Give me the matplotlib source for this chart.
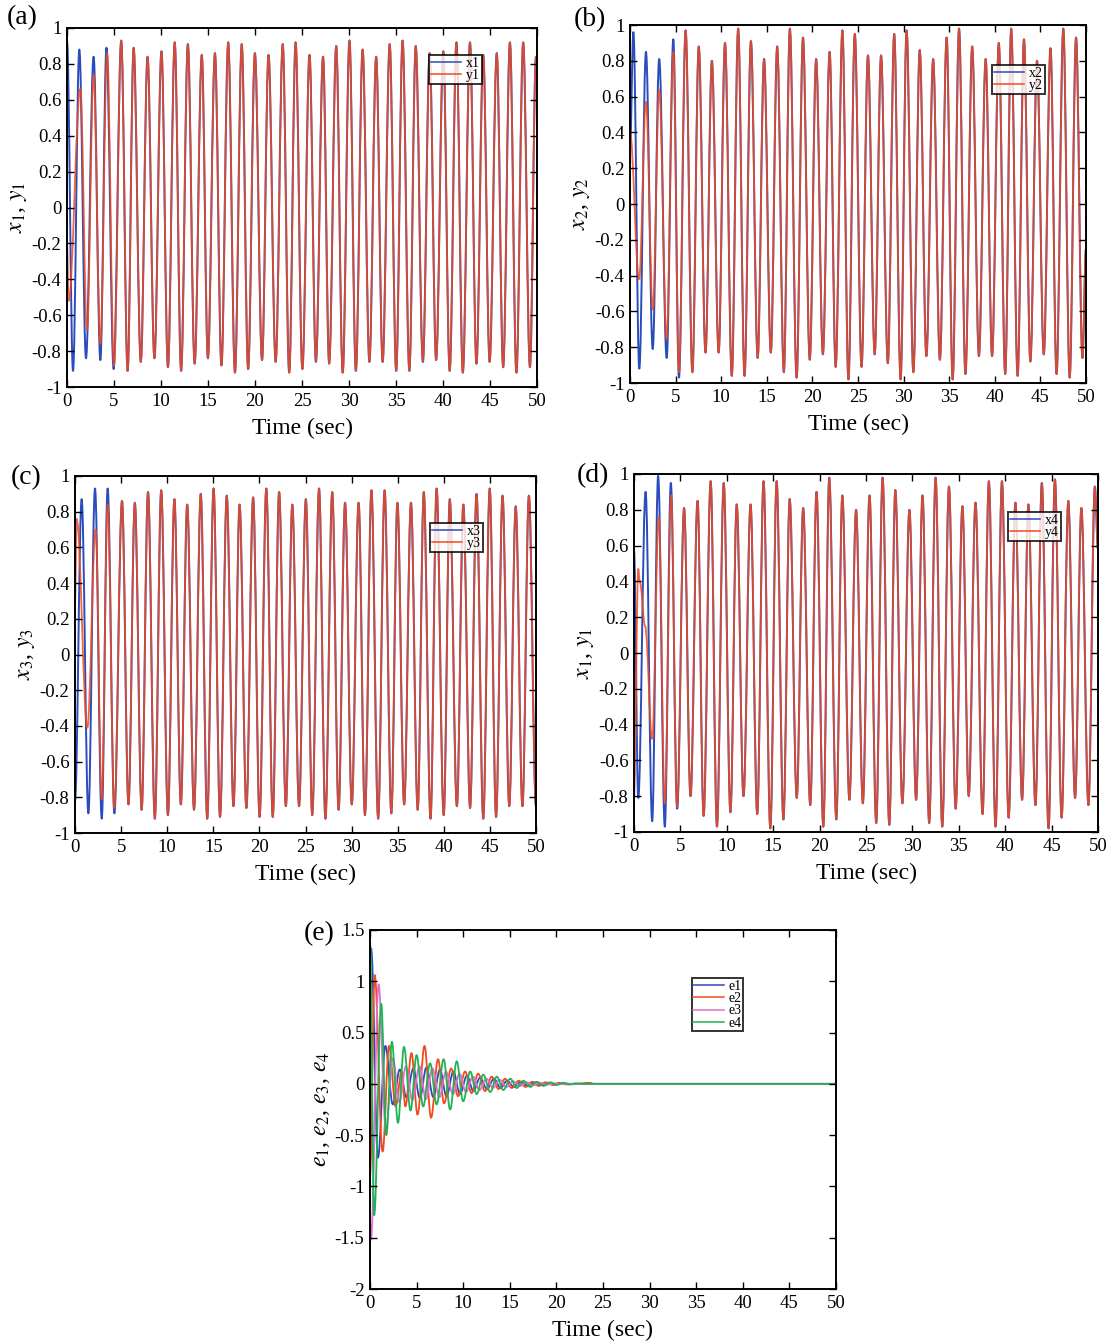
import numpy as np
import matplotlib
matplotlib.use('Agg')
import matplotlib.pyplot as plt
from matplotlib.path import Path
from matplotlib.patches import PathPatch
from matplotlib.lines import Line2D

plt.rcParams['font.family'] = ['Liberation Serif', 'DejaVu Serif']
plt.rcParams['mathtext.fontset'] = 'stix'

# ---- data: extrema of each signal (time, value) ----

# panel (a): x1 / y1
a_x_early_t = [0.0, 0.64, 1.31, 2.02, 2.83, 3.55, 4.20, 4.96]
a_x_early_v = [0.93, -0.91, 0.88, -0.84, 0.84, -0.85, 0.89, -0.90]
a_y_early_t = [0.0, 0.18, 1.42, 2.13, 2.83, 3.55, 4.27, 5.00]
a_y_early_v = [-0.20, -0.52, 0.66, -0.68, 0.74, -0.76, 0.86, -0.88]
a_peak_t = [5.77, 7.09, 8.57, 10.05, 11.46, 12.86, 14.34, 15.74, 17.15, 18.59, 19.99,
            21.44, 22.95, 24.32, 25.80, 27.24, 28.64, 30.05, 31.45, 32.89, 34.33, 35.70,
            37.10, 38.58, 40.03, 41.43, 42.87, 44.28, 45.72, 47.12, 48.53, 49.89]
a_peak_v = [0.93, 0.89, 0.84, 0.87, 0.92, 0.91, 0.85, 0.86, 0.92, 0.91, 0.86, 0.85, 0.91,
            0.92, 0.85, 0.84, 0.90, 0.93, 0.88, 0.84, 0.91, 0.93, 0.90, 0.86, 0.87, 0.92,
            0.92, 0.85, 0.86, 0.92, 0.92, 0.84]
a_trough_t = [6.45, 7.85, 9.30, 10.74, 12.14, 13.58, 14.99, 16.43, 17.87, 19.27, 20.75,
              22.20, 23.64, 25.04, 26.48, 27.89, 29.33, 30.73, 32.17, 33.58, 35.02, 36.42,
              37.86, 39.27, 40.71, 42.11, 43.56, 44.96, 46.40, 47.81, 49.25]
a_trough_v = [-0.91, -0.86, -0.84, -0.89, -0.91, -0.87, -0.84, -0.88, -0.92, -0.90, -0.85,
              -0.86, -0.92, -0.90, -0.86, -0.87, -0.92, -0.91, -0.86, -0.86, -0.91, -0.91,
              -0.86, -0.85, -0.91, -0.92, -0.87, -0.86, -0.89, -0.92, -0.89]
a_end = (50.0, 0.80)

# panel (b): x2 / y2
b_x_early_t = [0.0, 0.37, 1.02, 1.75, 2.49, 3.20, 4.02, 4.75, 5.37]
b_x_early_v = [0.30, 0.96, -0.92, 0.85, -0.81, 0.81, -0.86, 0.92, -0.97]
b_y_early_t = [0.0, 1.00, 1.75, 2.50, 3.20, 4.02, 4.75, 5.37]
b_y_early_v = [0.40, -0.42, 0.57, -0.59, 0.64, -0.75, 0.85, -0.94]
b_peak_t = [6.10, 7.54, 8.98, 10.42, 11.86, 13.26, 14.70, 16.14, 17.53, 18.97, 20.41,
            21.89, 23.29, 24.65, 26.09, 27.53, 28.97, 30.33, 31.77, 33.24, 34.72, 36.08,
            37.52, 39.00, 40.44, 41.80, 43.20, 44.63, 46.11, 47.51, 48.91]
b_peak_v = [0.97, 0.88, 0.80, 0.90, 0.98, 0.91, 0.81, 0.88, 0.98, 0.93, 0.81, 0.85, 0.97,
            0.95, 0.83, 0.83, 0.95, 0.97, 0.86, 0.81, 0.93, 0.98, 0.88, 0.81, 0.90, 0.98,
            0.92, 0.80, 0.87, 0.98, 0.93]
b_trough_t = [6.84, 8.28, 9.72, 11.16, 12.56, 14.00, 15.44, 16.87, 18.27, 19.71, 21.15,
              22.55, 23.95, 25.39, 26.83, 28.27, 29.67, 31.07, 32.50, 33.98, 35.38, 36.78,
              38.26, 39.70, 41.14, 42.50, 43.90, 45.37, 46.77, 48.21, 49.61]
b_trough_v = [-0.94, -0.83, -0.83, -0.96, -0.96, -0.86, -0.83, -0.94, -0.97, -0.87, -0.84,
              -0.91, -0.98, -0.91, -0.84, -0.89, -0.98, -0.94, -0.85, -0.87, -0.98, -0.95,
              -0.85, -0.85, -0.95, -0.96, -0.88, -0.84, -0.95, -0.97, -0.86]
b_end = (50.0, -0.25)

# panel (c): x3 / y3
c_x_early_t = [0.0, 0.72, 1.45, 2.17, 2.90, 3.54, 4.27]
c_x_early_v = [-0.82, 0.87, -0.89, 0.93, -0.92, 0.93, -0.89]
c_y_early_t = [0.0, 0.18, 1.34, 2.24, 2.90, 3.54, 4.27]
c_y_early_v = [0.28, 0.76, -0.41, 0.70, -0.81, 0.84, -0.86]
c_peak_t = [5.10, 6.49, 7.92, 9.35, 10.78, 12.17, 13.64, 15.03, 16.46, 17.85, 19.32,
            20.75, 22.14, 23.57, 25.04, 26.47, 27.90, 29.29, 30.76, 32.15, 33.58, 34.97,
            36.44, 37.83, 39.22, 40.65, 42.12, 43.55, 44.98, 46.37, 47.80, 49.23]
c_peak_v = [0.86, 0.85, 0.91, 0.92, 0.87, 0.84, 0.90, 0.93, 0.89, 0.84, 0.88, 0.93, 0.91,
            0.84, 0.87, 0.93, 0.91, 0.85, 0.85, 0.92, 0.92, 0.85, 0.85, 0.91, 0.93, 0.87,
            0.84, 0.90, 0.93, 0.89, 0.83, 0.89]
c_trough_t = [5.80, 7.23, 8.66, 10.08, 11.48, 12.91, 14.34, 15.73, 17.19, 18.59, 20.02,
              21.45, 22.87, 24.30, 25.73, 27.16, 28.59, 30.02, 31.45, 32.88, 34.31, 35.70,
              37.17, 38.56, 39.99, 41.42, 42.85, 44.28, 45.67, 47.10, 48.53]
c_trough_v = [-0.84, -0.87, -0.92, -0.90, -0.84, -0.87, -0.92, -0.91, -0.85, -0.86, -0.91,
              -0.91, -0.85, -0.85, -0.90, -0.92, -0.87, -0.84, -0.90, -0.92, -0.89, -0.84,
              -0.87, -0.92, -0.90, -0.85, -0.86, -0.92, -0.91, -0.85, -0.85]
c_end = (50.0, -0.85)

# panel (d): x4 / y4
d_x_early_t = [0.0, 0.46, 1.25, 1.96, 2.60, 3.32, 3.97, 4.65]
d_x_early_v = [0.57, -0.81, 0.90, -0.94, 0.99, -0.97, 0.95, -0.87]
d_y_early_t = [0.0, 0.46, 0.62, 1.20, 1.96, 2.67, 3.32, 4.00, 4.65]
d_y_early_v = [-0.80, 0.47, 0.40, 0.15, -0.48, 0.76, -0.84, 0.88, -0.86]
d_peak_t = [5.40, 6.85, 8.26, 9.67, 11.07, 12.56, 13.96, 15.37, 16.78, 18.23, 19.67,
            21.04, 22.45, 23.93, 25.38, 26.79, 28.16, 29.68, 31.09, 32.50, 33.94, 35.39,
            36.80, 38.24, 39.65, 41.10, 42.50, 43.95, 45.36, 46.80, 48.21, 49.66]
d_peak_v = [0.81, 0.85, 0.96, 0.95, 0.83, 0.83, 0.96, 0.96, 0.86, 0.81, 0.90, 0.98, 0.88,
            0.80, 0.88, 0.98, 0.91, 0.80, 0.88, 0.98, 0.93, 0.82, 0.84, 0.96, 0.96, 0.84,
            0.83, 0.95, 0.97, 0.85, 0.81, 0.93]
d_trough_t = [6.09, 7.50, 8.94, 10.39, 11.80, 13.28, 14.69, 16.10, 17.54, 18.99, 20.40,
              21.80, 23.21, 24.66, 26.10, 27.51, 28.92, 30.40, 31.81, 33.22, 34.66, 36.07,
              37.56, 38.96, 40.37, 41.82, 43.26, 44.67, 46.08, 47.53, 48.97]
d_trough_v = [-0.80, -0.91, -0.97, -0.89, -0.80, -0.90, -0.98, -0.93, -0.81, -0.85, -0.97,
              -0.93, -0.82, -0.84, -0.95, -0.96, -0.84, -0.82, -0.95, -0.97, -0.87, -0.80,
              -0.90, -0.97, -0.92, -0.82, -0.85, -0.98, -0.92, -0.81, -0.85]
d_end = (50.0, 0.58)

# panel (e): synchronization errors
e1_t = [0.0, 0.12, 0.85, 1.65, 2.45, 3.20, 3.90, 4.65, 5.35, 6.05, 6.80, 7.50, 8.20, 8.95,
        9.65, 10.40, 11.10, 11.80, 12.55, 13.30, 14.00, 14.70, 15.45, 16.20, 16.90, 17.60,
        18.40, 19.10, 19.80, 20.60, 21.30, 22.00, 23.00, 50.0]
e1_v = [1.28, 1.32, -0.72, 0.37, -0.20, 0.14, -0.13, 0.15, -0.14, 0.16, -0.13, 0.14, -0.12,
        0.12, -0.10, 0.08, -0.07, 0.06, -0.05, 0.05, -0.04, 0.03, -0.03, 0.02, -0.02, 0.015,
        -0.01, 0.01, -0.008, 0.005, -0.004, 0.002, 0.0, 0.0]
e2_t = [0.0, 0.50, 1.35, 2.05, 2.75, 3.40, 3.80, 4.45, 5.10, 5.85, 6.55, 7.30, 7.95, 8.70,
        9.45, 10.20, 10.90, 11.60, 12.35, 13.05, 13.80, 14.50, 15.20, 15.95, 16.70, 17.40,
        18.10, 18.80, 19.60, 20.30, 21.00, 22.00, 23.60, 24.00, 50.0]
e2_v = [-0.90, 1.06, -0.66, 0.37, -0.22, 0.12, -0.22, 0.30, -0.30, 0.37, -0.33, 0.24, -0.19,
        0.15, -0.12, 0.12, -0.09, 0.10, -0.07, 0.07, -0.05, 0.05, -0.04, 0.03, -0.03, 0.02,
        -0.02, 0.015, -0.01, 0.01, -0.005, 0.0, 0.01, 0.0, 0.0]
e3_t = [0.0, 0.10, 0.92, 1.70, 2.45, 3.15, 3.85, 4.55, 5.30, 6.00, 6.70, 7.45, 8.15, 8.90,
        9.60, 10.30, 11.05, 11.75, 12.50, 13.20, 13.90, 14.65, 15.35, 16.10, 16.80, 17.50,
        18.25, 19.00, 19.70, 20.40, 21.20, 22.50, 50.0]
e3_v = [-1.35, -1.52, 0.97, -0.45, 0.25, -0.18, 0.17, -0.16, 0.17, -0.15, 0.15, -0.13, 0.12,
        -0.10, 0.10, -0.08, 0.07, -0.06, 0.05, -0.04, 0.04, -0.03, 0.025, -0.02, 0.015,
        -0.012, 0.01, -0.008, 0.005, -0.003, 0.002, 0.0, 0.0]
e4_t = [0.0, 0.45, 1.20, 1.75, 2.35, 3.00, 3.65, 4.35, 5.00, 5.70, 6.45, 7.15, 7.90, 8.60,
        9.30, 10.00, 10.75, 11.45, 12.15, 12.90, 13.60, 14.30, 15.05, 15.75, 16.45, 17.20,
        17.90, 18.60, 19.35, 20.00, 20.80, 21.50, 22.20, 23.00, 50.0]
e4_v = [1.38, -1.28, 0.78, -0.50, 0.41, -0.38, 0.36, -0.26, 0.28, -0.22, 0.20, -0.20, 0.24,
        -0.25, 0.22, -0.17, 0.12, -0.10, 0.09, -0.08, 0.07, -0.06, 0.05, -0.04, 0.03, -0.03,
        0.02, -0.02, 0.015, -0.01, 0.01, -0.005, 0.003, 0.0, 0.0]

x_ticks = [0, 5, 10, 15, 20, 25, 30, 35, 40, 45, 50]
state_yticks = [-1, -0.8, -0.6, -0.4, -0.2, 0, 0.2, 0.4, 0.6, 0.8, 1]
state_ylabels = ['-1', '-0.8', '-0.6', '-0.4', '-0.2', '0', '0.2', '0.4', '0.6', '0.8', '1']
err_yticks = [-2, -1.5, -1, -0.5, 0, 0.5, 1, 1.5]
err_ylabels = ['-2', '-1.5', '-1', '-0.5', '0', '0.5', '1', '1.5']

BLUE = '#2a4cbc'
RED = '#f24a1e'
MAGENTA = '#e070cc'
GREEN = '#1fb256'


def build(early_t, early_v, pk_t, pk_v, tr_t, tr_v, end):
    t = np.concatenate([early_t, pk_t, tr_t, [end[0]]])
    v = np.concatenate([early_v, pk_v, tr_v, [end[1]]])
    order = np.argsort(t)
    return t[order], v[order]


def smooth_line(ax, t, v, color, lw=1.0, alpha=1.0):
    # cubic segments between extrema, flat at each extremum
    verts = [(t[0], v[0])]
    codes = [Path.MOVETO]
    for i in range(len(t) - 1):
        dt = t[i + 1] - t[i]
        verts += [(t[i] + 0.364 * dt, v[i]), (t[i + 1] - 0.364 * dt, v[i + 1]),
                  (t[i + 1], v[i + 1])]
        codes += [Path.CURVE4] * 3
    ax.add_patch(PathPatch(Path(verts, codes), fill=False, edgecolor=color,
                           lw=lw, alpha=alpha, joinstyle='round'))


def setup(ax, yticks, ylabels, ylabel):
    ax.set_xlim(0, 50)
    ax.set_ylim(yticks[0], yticks[-1])
    ax.set_xticks(x_ticks)
    ax.set_xticklabels([str(x) for x in x_ticks])
    ax.set_yticks(yticks)
    ax.set_yticklabels(ylabels)
    ax.tick_params(direction='in', top=True, right=True, length=5, width=1,
                   labelsize=13.5, pad=4)
    for s in ax.spines.values():
        s.set_linewidth(1.4)
    ax.set_xlabel('Time (sec)', fontsize=17, labelpad=6)
    ax.set_ylabel(ylabel, fontsize=17, labelpad=2)


def legend(ax, labels, colors, anchor):
    handles = [Line2D([], [], color=c, lw=1.1) for c in colors]
    leg = ax.legend(handles, labels, loc='upper left', bbox_to_anchor=anchor,
                    fontsize=10, frameon=True, fancybox=False, borderpad=0.12,
                    labelspacing=-0.05, handlelength=2.2, handletextpad=0.35,
                    borderaxespad=0)
    leg.get_frame().set_edgecolor('black')
    leg.get_frame().set_linewidth(1.4)


W, H = 1116, 1343
fig = plt.figure(figsize=(W / 100, H / 100), dpi=100)


def box(l, r, t, b):
    return [l / W, 1 - b / H, (r - l) / W, (b - t) / H]


state_panels = [
    ('(a)', box(67, 537, 28, 387), (a_x_early_t, a_x_early_v, a_y_early_t, a_y_early_v,
                                    a_peak_t, a_peak_v, a_trough_t, a_trough_v, a_end),
     r'$x_1$, $y_1$', ['x1', 'y1'], (0.77, 0.925), (7, 18)),
    ('(b)', box(630, 1086, 25, 383), (b_x_early_t, b_x_early_v, b_y_early_t, b_y_early_v,
                                      b_peak_t, b_peak_v, b_trough_t, b_trough_v, b_end),
     r'$x_2$, $y_2$', ['x2', 'y2'], (0.794, 0.888), (574, 20)),
    ('(c)', box(75, 536, 476, 833), (c_x_early_t, c_x_early_v, c_y_early_t, c_y_early_v,
                                     c_peak_t, c_peak_v, c_trough_t, c_trough_v, c_end),
     r'$x_3$, $y_3$', ['x3', 'y3'], (0.77, 0.868), (11, 478)),
    ('(d)', box(634, 1098, 474, 832), (d_x_early_t, d_x_early_v, d_y_early_t, d_y_early_v,
                                       d_peak_t, d_peak_v, d_trough_t, d_trough_v, d_end),
     r'$x_1$, $y_1$', ['x4', 'y4'], (0.806, 0.894), (577, 476)),
]

for tag, pos, data, ylab, labs, anchor, tagpos in state_panels:
    xe_t, xe_v, ye_t, ye_v, pk_t, pk_v, tr_t, tr_v, end = data
    ax = fig.add_axes(pos)
    xt, xv = build(xe_t, xe_v, pk_t, pk_v, tr_t, tr_v, end)
    yt, yv = build(ye_t, ye_v, pk_t, pk_v, tr_t, tr_v, end)
    smooth_line(ax, xt, xv, BLUE, lw=1.4)
    smooth_line(ax, yt, yv, RED, lw=1.3, alpha=0.85)
    setup(ax, state_yticks, state_ylabels, ylab)
    legend(ax, labs, [BLUE, RED], anchor)
    fig.text(tagpos[0] / W, 1 - tagpos[1] / H, tag, fontsize=20, va='center', ha='left')

ax = fig.add_axes(box(370, 836, 930, 1289))
for et, ev, c in [(e1_t, e1_v, BLUE), (e2_t, e2_v, RED), (e3_t, e3_v, MAGENTA),
                  (e4_t, e4_v, GREEN)]:
    smooth_line(ax, np.array(et), np.array(ev), c, lw=1.3)
setup(ax, err_yticks, err_ylabels, r'$e_1$, $e_2$, $e_3$, $e_4$')
legend(ax, ['e1', 'e2', 'e3', 'e4'], [BLUE, RED, MAGENTA, GREEN], (0.69, 0.866))
fig.text(304 / W, 1 - 934 / H, '(e)', fontsize=20, va='center', ha='left')

fig.savefig('out.png', dpi=100)
